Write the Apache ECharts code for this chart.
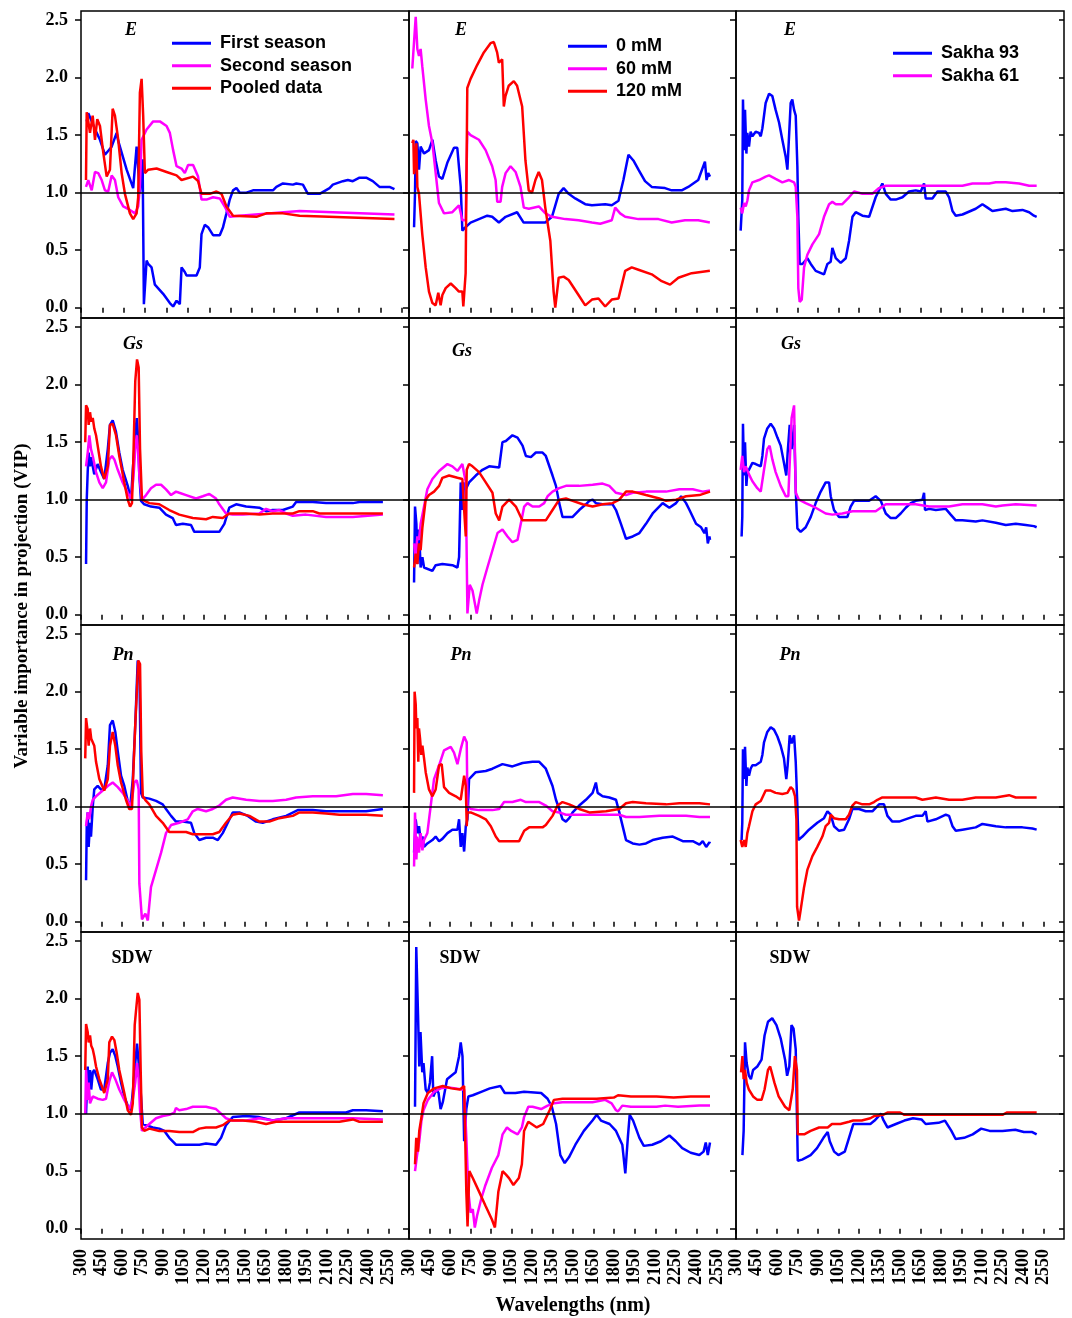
<!DOCTYPE html>
<html>
<head>
<meta charset="utf-8">
<title>VIP spectra</title>
<script src="https://cdn.jsdelivr.net/npm/echarts@6/dist/echarts.min.js"></script>
<style>
  html, body { margin: 0; padding: 0; background: #fff; }
  #chart { width: 1072px; height: 1318px; }
</style>
</head>
<body>
<div id="chart"></div>
<script>
// tick labels
const wlTicks = [300, 450, 600, 750, 900, 1050, 1200, 1350, 1500, 1650, 1800, 1950, 2100, 2250, 2400, 2550];
const vipTicks = [0, 0.5, 1, 1.5, 2, 2.5];

// legend names
const seasonNames = ['First season', 'Second season', 'Pooled data'];
const saltNames = ['0 mM', '60 mM', '120 mM'];
const cultivarNames = ['Sakha 93', 'Sakha 61'];

// ---- E (transpiration) ----
const E_season1 = [[340,1.62],[351,1.69],[410,1.52],[433,1.46],[468,1.33],[480,1.33],[515,1.40],[550,1.52],[561,1.45],[620,1.20],[666,1.04],[678,1.03],[690,1.40],[713,1.00],[732,1.29],[741,0.03],[760,0.41],[771,0.38],[795,0.35],[818,0.20],[876,0.12],[923,0.04],[946,0.01],[970,0.06],[993,0.03],[1005,0.35],[1028,0.31],[1040,0.28],[1110,0.28],[1133,0.35],[1145,0.64],[1168,0.72],[1191,0.70],[1226,0.63],[1273,0.63],[1296,0.70],[1320,0.82],[1343,0.94],[1366,1.02],[1390,1.04],[1413,1.00],[1460,1.00],[1506,1.02],[1646,1.02],[1670,1.05],[1716,1.08],[1786,1.07],[1810,1.08],[1856,1.07],[1891,0.99],[1973,0.99],[2043,1.04],[2066,1.07],[2136,1.10],[2171,1.11],[2206,1.10],[2253,1.13],[2300,1.13],[2346,1.10],[2393,1.05],[2463,1.05],[2498,1.03]];
const E_season2 = [[335,1.05],[351,1.11],[375,1.02],[398,1.18],[421,1.17],[445,1.11],[468,1.02],[491,1.01],[515,1.15],[538,1.11],[561,0.96],[596,0.88],[643,0.85],[678,0.82],[701,0.88],[713,1.05],[725,1.46],[760,1.55],[806,1.62],[853,1.62],[900,1.58],[923,1.52],[946,1.37],[970,1.23],[1005,1.21],[1028,1.17],[1051,1.24],[1086,1.24],[1121,1.14],[1145,0.94],[1180,0.94],[1226,0.96],[1273,0.95],[1308,0.88],[1343,0.79],[1413,0.80],[1833,0.84],[2066,0.83],[2498,0.81]];
const E_pooled = [[335,1.11],[340,1.70],[344,1.68],[363,1.52],[382,1.67],[398,1.46],[414,1.64],[433,1.58],[456,1.35],[480,1.14],[503,1.20],[522,1.73],[538,1.67],[561,1.46],[585,1.17],[608,0.99],[643,0.82],[666,0.77],[690,0.82],[701,0.96],[713,1.87],[725,1.99],[736,1.67],[748,1.17],[771,1.20],[830,1.21],[900,1.18],[970,1.15],[1005,1.11],[1086,1.14],[1121,1.10],[1145,0.99],[1203,0.99],[1250,1.01],[1285,0.99],[1320,0.88],[1366,0.80],[1530,0.79],[1600,0.82],[1716,0.82],[1833,0.80],[2498,0.77]];
const E_salt0 = [[337,0.70],[344,1.00],[349,1.45],[361,1.43],[373,1.20],[385,1.40],[410,1.34],[446,1.37],[471,1.46],[495,1.28],[519,1.14],[544,1.12],[580,1.26],[629,1.39],[653,1.39],[678,1.05],[690,0.67],[714,0.70],[750,0.74],[811,0.77],[872,0.80],[908,0.79],[957,0.74],[1006,0.79],[1090,0.83],[1138,0.74],[1296,0.74],[1345,0.79],[1394,0.99],[1430,1.04],[1467,0.99],[1515,0.95],[1588,0.90],[1637,0.89],[1734,0.90],[1782,0.89],[1831,0.93],[1867,1.11],[1904,1.33],[1940,1.28],[1977,1.20],[2025,1.10],[2074,1.05],[2171,1.04],[2220,1.02],[2293,1.02],[2341,1.05],[2414,1.11],[2463,1.27],[2475,1.11],[2487,1.17],[2500,1.14]];
const E_salt60 = [[324,2.08],[349,2.53],[361,2.25],[373,2.19],[385,2.25],[397,2.10],[422,1.81],[446,1.58],[471,1.43],[495,1.17],[519,0.91],[556,0.82],[617,0.83],[665,0.89],[690,0.76],[714,0.76],[726,1.53],[750,1.50],[811,1.46],[860,1.37],[908,1.23],[933,1.11],[945,0.92],[969,0.92],[981,1.05],[1006,1.17],[1042,1.23],[1079,1.18],[1115,1.05],[1139,0.87],[1176,0.86],[1249,0.88],[1297,0.82],[1345,0.79],[1442,0.77],[1539,0.76],[1637,0.74],[1698,0.73],[1782,0.76],[1807,0.87],[1843,0.82],[1880,0.79],[1977,0.77],[2123,0.77],[2220,0.74],[2317,0.76],[2414,0.76],[2499,0.74]];
const E_salt120 = [[324,1.43],[332,1.46],[337,1.16],[344,1.28],[354,1.43],[361,1.05],[373,0.99],[397,0.64],[422,0.35],[446,0.14],[471,0.04],[495,0.02],[514,0.13],[531,0.02],[544,0.11],[568,0.17],[605,0.21],[641,0.17],[665,0.14],[690,0.14],[697,0.01],[714,0.30],[726,1.91],[750,1.99],[798,2.11],[847,2.22],[896,2.30],[920,2.31],[944,2.22],[957,2.13],[981,2.16],[993,1.75],[1005,1.84],[1029,1.93],[1066,1.97],[1090,1.93],[1127,1.75],[1151,1.28],[1175,1.02],[1199,1.00],[1224,1.11],[1248,1.18],[1272,1.11],[1296,0.87],[1333,0.58],[1357,0.14],[1369,0.00],[1394,0.26],[1430,0.27],[1467,0.24],[1539,0.11],[1588,0.02],[1637,0.07],[1685,0.08],[1734,0.01],[1782,0.07],[1831,0.08],[1880,0.32],[1928,0.35],[1977,0.33],[2074,0.29],[2147,0.23],[2208,0.20],[2269,0.26],[2366,0.30],[2499,0.32]];
const E_sakha93 = [[334,0.67],[346,0.94],[351,1.81],[359,1.37],[366,1.72],[376,1.34],[383,1.52],[395,1.40],[407,1.53],[420,1.49],[444,1.53],[468,1.52],[481,1.49],[493,1.56],[517,1.78],[542,1.86],[566,1.84],[590,1.72],[615,1.61],[639,1.46],[664,1.31],[676,1.20],[688,1.49],[700,1.78],[712,1.81],[725,1.72],[737,1.67],[749,1.23],[756,0.79],[766,0.38],[786,0.38],[822,0.43],[847,0.38],[883,0.32],[944,0.29],[969,0.38],[993,0.40],[1005,0.52],[1030,0.43],[1066,0.39],[1103,0.43],[1127,0.58],[1152,0.79],[1176,0.83],[1225,0.80],[1274,0.79],[1322,0.96],[1371,1.08],[1396,0.99],[1432,0.94],[1469,0.94],[1518,0.96],[1566,1.01],[1615,1.02],[1652,1.01],[1676,1.08],[1688,0.95],[1737,0.95],[1774,1.01],[1835,1.01],[1859,0.96],[1884,0.84],[1908,0.80],[1957,0.81],[2054,0.86],[2103,0.90],[2140,0.87],[2176,0.84],[2274,0.86],[2323,0.84],[2396,0.85],[2445,0.83],[2480,0.80],[2500,0.79]];
const E_sakha61 = [[334,0.87],[346,0.82],[359,0.91],[371,0.88],[383,0.93],[395,1.02],[420,1.09],[468,1.11],[517,1.14],[542,1.15],[590,1.12],[639,1.09],[688,1.11],[725,1.09],[737,1.05],[749,0.79],[756,0.17],[766,0.05],[781,0.07],[798,0.35],[822,0.46],[859,0.55],[908,0.64],[944,0.79],[981,0.90],[1005,0.92],[1030,0.90],[1078,0.90],[1127,0.96],[1164,1.01],[1225,0.99],[1298,0.99],[1347,1.04],[1396,1.06],[1591,1.06],[1713,1.06],[1835,1.06],[1957,1.06],[2030,1.08],[2152,1.08],[2201,1.09],[2274,1.09],[2372,1.08],[2445,1.06],[2500,1.06]];

// ---- Gs (stomatal conductance) ----
const Gs_season1 = [[337,0.44],[342,1.00],[349,1.24],[356,1.41],[366,1.29],[373,1.37],[386,1.29],[397,1.22],[422,1.31],[446,1.24],[470,1.18],[496,1.44],[512,1.65],[532,1.69],[556,1.59],[580,1.41],[605,1.26],[642,1.12],[666,1.00],[679,1.26],[697,1.56],[708,1.71],[717,1.56],[727,1.21],[739,0.99],[763,0.96],[812,0.94],[873,0.93],[922,0.87],[971,0.84],[995,0.78],[1045,0.79],[1105,0.78],[1129,0.72],[1215,0.72],[1312,0.72],[1349,0.79],[1385,0.93],[1435,0.96],[1508,0.94],[1605,0.93],[1654,0.90],[1702,0.91],[1777,0.91],[1850,0.94],[1874,0.98],[1996,0.98],[2093,0.97],[2289,0.97],[2337,0.98],[2509,0.98]];
const Gs_season2 = [[337,1.29],[349,1.41],[361,1.56],[373,1.44],[386,1.38],[410,1.24],[434,1.15],[459,1.10],[483,1.15],[507,1.35],[527,1.38],[544,1.35],[569,1.26],[605,1.15],[642,1.06],[666,1.01],[683,1.18],[697,1.44],[708,1.56],[717,1.44],[727,1.21],[746,1.00],[776,1.04],[812,1.10],[849,1.13],[886,1.13],[922,1.09],[959,1.04],[995,1.07],[1019,1.06],[1069,1.04],[1142,1.01],[1191,1.03],[1239,1.05],[1288,1.01],[1312,0.96],[1361,0.88],[1410,0.87],[1484,0.87],[1605,0.88],[1654,0.92],[1702,0.90],[1751,0.91],[1801,0.88],[1850,0.86],[1947,0.87],[2093,0.85],[2289,0.85],[2509,0.87]];
const Gs_pooled = [[331,1.50],[337,1.82],[349,1.79],[356,1.65],[366,1.76],[375,1.68],[386,1.71],[397,1.62],[410,1.56],[422,1.47],[446,1.29],[470,1.18],[496,1.29],[512,1.65],[532,1.66],[556,1.56],[580,1.38],[617,1.15],[642,1.00],[659,0.94],[673,0.97],[683,1.35],[697,2.03],[710,2.22],[722,2.15],[732,1.44],[746,1.00],[800,0.97],[873,0.96],[946,0.91],[1019,0.87],[1118,0.84],[1215,0.83],[1264,0.85],[1337,0.84],[1385,0.88],[1508,0.88],[1605,0.87],[1702,0.88],[1850,0.88],[1898,0.90],[1996,0.90],[2044,0.88],[2143,0.88],[2289,0.88],[2509,0.88]];
const Gs_salt0 = [[337,0.28],[344,0.94],[354,0.79],[361,0.44],[373,0.74],[385,0.41],[398,0.50],[410,0.41],[422,0.40],[471,0.38],[495,0.43],[544,0.44],[617,0.43],[654,0.41],[666,0.50],[678,1.15],[690,0.91],[703,1.15],[715,1.09],[739,1.15],[788,1.21],[837,1.26],[886,1.29],[959,1.28],[983,1.50],[1008,1.51],[1056,1.56],[1093,1.54],[1130,1.47],[1154,1.38],[1191,1.37],[1227,1.41],[1276,1.41],[1300,1.38],[1349,1.21],[1374,1.12],[1398,0.97],[1422,0.85],[1447,0.85],[1496,0.85],[1544,0.91],[1593,0.96],[1618,0.99],[1642,1.00],[1666,0.97],[1715,0.96],[1788,0.96],[1813,0.91],[1849,0.79],[1886,0.66],[1935,0.68],[1984,0.71],[2032,0.79],[2081,0.88],[2154,0.97],[2203,0.93],[2252,0.97],[2289,1.03],[2325,0.97],[2350,0.91],[2398,0.79],[2435,0.76],[2459,0.71],[2472,0.76],[2484,0.62],[2496,0.68],[2500,0.65]];
const Gs_salt60 = [[337,0.62],[349,0.50],[361,0.68],[373,0.65],[385,0.79],[410,0.94],[434,1.09],[471,1.18],[520,1.25],[581,1.31],[617,1.29],[654,1.25],[690,1.31],[715,1.15],[727,0.01],[744,0.26],[764,0.21],[795,0.01],[812,0.12],[837,0.26],[873,0.41],[910,0.56],[947,0.71],[983,0.74],[1020,0.68],[1056,0.63],[1093,0.65],[1117,0.79],[1142,0.94],[1166,0.97],[1203,0.94],[1252,0.94],[1288,0.97],[1313,1.03],[1349,1.07],[1398,1.10],[1447,1.12],[1544,1.12],[1642,1.13],[1715,1.14],[1764,1.12],[1813,1.06],[1886,1.04],[1935,1.06],[2032,1.07],[2179,1.07],[2276,1.09],[2374,1.09],[2447,1.07],[2500,1.08]];
const Gs_salt120 = [[337,0.41],[349,0.53],[361,0.44],[373,0.62],[385,0.56],[398,0.76],[422,1.00],[446,1.04],[483,1.07],[520,1.12],[544,1.19],[593,1.21],[654,1.19],[690,1.18],[703,0.91],[715,0.68],[722,1.26],[739,1.31],[764,1.29],[812,1.24],[861,1.15],[910,1.06],[934,0.88],[959,0.82],[983,0.94],[1032,1.00],[1081,0.94],[1117,0.85],[1130,0.82],[1203,0.82],[1300,0.82],[1349,0.91],[1398,1.00],[1447,1.01],[1496,0.99],[1569,0.96],[1642,0.94],[1715,0.96],[1788,0.97],[1837,1.00],[1886,1.07],[1935,1.07],[2032,1.04],[2130,1.01],[2179,0.99],[2252,1.00],[2325,1.03],[2423,1.04],[2500,1.07]];
const Gs_sakha93 = [[341,0.68],[346,0.85],[351,1.66],[359,1.21],[366,1.50],[376,1.12],[383,1.24],[395,1.26],[420,1.32],[444,1.31],[481,1.29],[493,1.38],[505,1.53],[529,1.62],[554,1.66],[578,1.62],[603,1.54],[627,1.47],[651,1.32],[668,1.21],[678,1.41],[693,1.65],[707,1.44],[725,1.65],[737,1.09],[749,0.75],[773,0.72],[810,0.76],[847,0.85],[883,0.97],[920,1.07],[956,1.15],[981,1.15],[993,1.03],[1017,0.91],[1054,0.85],[1115,0.85],[1139,0.94],[1164,0.99],[1225,0.99],[1274,0.99],[1322,1.03],[1359,0.99],[1396,0.88],[1432,0.84],[1469,0.84],[1505,0.88],[1542,0.93],[1579,0.97],[1615,0.99],[1664,1.00],[1676,1.06],[1683,0.91],[1713,0.92],[1762,0.91],[1835,0.92],[1871,0.87],[1908,0.82],[1957,0.82],[2054,0.81],[2103,0.82],[2201,0.80],[2274,0.78],[2347,0.79],[2420,0.78],[2480,0.77],[2500,0.76]];
const Gs_sakha61 = [[334,1.26],[346,1.38],[359,1.24],[371,1.29],[395,1.22],[420,1.16],[456,1.10],[481,1.07],[505,1.26],[529,1.44],[546,1.47],[566,1.35],[590,1.24],[627,1.12],[664,1.03],[683,1.03],[693,1.32],[707,1.71],[725,1.82],[737,1.06],[761,1.00],[810,0.97],[883,0.93],[956,0.88],[1005,0.87],[1078,0.88],[1152,0.90],[1249,0.90],[1322,0.90],[1359,0.93],[1396,0.96],[1469,0.96],[1615,0.96],[1713,0.94],[1859,0.94],[1957,0.96],[2103,0.96],[2201,0.94],[2250,0.95],[2347,0.96],[2500,0.95]];

// ---- Pn (net photosynthesis) ----
const Pn_season1 = [[337,0.36],[342,0.83],[349,0.95],[356,0.65],[366,0.86],[373,0.74],[386,1.00],[397,1.15],[422,1.18],[446,1.15],[470,1.15],[496,1.36],[512,1.71],[532,1.75],[551,1.65],[569,1.48],[593,1.27],[617,1.18],[642,1.05],[659,0.99],[679,1.24],[697,1.71],[715,2.27],[727,2.24],[739,1.12],[752,1.08],[800,1.07],[849,1.05],[898,1.02],[922,0.98],[959,0.92],[995,0.87],[1045,0.87],[1105,0.86],[1129,0.77],[1166,0.71],[1215,0.73],[1264,0.73],[1301,0.71],[1337,0.77],[1374,0.86],[1410,0.95],[1459,0.95],[1520,0.92],[1581,0.87],[1630,0.86],[1703,0.89],[1801,0.92],[1886,0.97],[1996,0.97],[2093,0.96],[2240,0.96],[2386,0.96],[2509,0.98]];
const Pn_season2 = [[337,0.83],[349,0.95],[361,0.89],[373,1.00],[386,1.06],[410,1.09],[459,1.14],[496,1.18],[532,1.21],[569,1.17],[605,1.12],[642,1.05],[666,1.00],[690,1.21],[708,1.23],[722,1.15],[727,0.33],[746,0.02],[771,0.07],[789,0.01],[812,0.30],[849,0.45],[886,0.60],[922,0.77],[959,0.84],[1019,0.86],[1081,0.89],[1118,0.96],[1154,0.98],[1215,0.96],[1264,0.98],[1312,1.01],[1361,1.06],[1410,1.08],[1508,1.06],[1605,1.05],[1703,1.05],[1801,1.06],[1874,1.08],[1996,1.09],[2167,1.09],[2289,1.11],[2386,1.11],[2509,1.10]];
const Pn_pooled = [[331,1.42],[337,1.77],[349,1.65],[356,1.53],[366,1.68],[375,1.59],[386,1.56],[397,1.53],[410,1.39],[434,1.24],[470,1.14],[496,1.24],[512,1.53],[532,1.65],[551,1.53],[569,1.36],[593,1.21],[629,1.06],[653,0.98],[673,0.98],[683,1.30],[697,1.71],[710,2.03],[719,2.27],[732,2.24],[741,1.48],[752,1.09],[776,1.05],[800,1.02],[849,0.92],[898,0.86],[946,0.78],[995,0.78],[1069,0.78],[1118,0.76],[1166,0.76],[1264,0.76],[1312,0.78],[1361,0.86],[1410,0.93],[1459,0.94],[1532,0.92],[1605,0.87],[1678,0.87],[1751,0.90],[1850,0.92],[1898,0.95],[1996,0.95],[2093,0.94],[2191,0.93],[2264,0.93],[2386,0.93],[2509,0.92]];
const Pn_salt0 = [[337,0.60],[349,0.89],[361,0.77],[373,0.83],[385,0.71],[398,0.74],[410,0.65],[434,0.68],[471,0.71],[495,0.74],[520,0.70],[544,0.72],[581,0.77],[617,0.80],[654,0.80],[666,0.89],[678,0.65],[690,0.77],[703,0.61],[715,0.83],[727,0.89],[739,1.24],[788,1.30],[861,1.31],[910,1.33],[983,1.37],[1056,1.35],[1130,1.38],[1203,1.39],[1252,1.39],[1300,1.33],[1349,1.18],[1374,1.06],[1398,0.98],[1422,0.89],[1447,0.87],[1471,0.90],[1496,0.95],[1544,1.01],[1593,1.06],[1642,1.12],[1666,1.21],[1679,1.12],[1715,1.09],[1764,1.08],[1813,1.06],[1837,0.95],[1874,0.77],[1886,0.71],[1935,0.68],[1984,0.67],[2032,0.68],[2081,0.71],[2154,0.73],[2228,0.74],[2301,0.70],[2374,0.70],[2423,0.67],[2447,0.70],[2472,0.65],[2496,0.69],[2500,0.68]];
const Pn_salt60 = [[337,0.48],[344,0.95],[354,0.54],[361,0.74],[373,0.60],[385,0.77],[398,0.62],[410,0.71],[434,0.77],[459,1.01],[483,1.24],[520,1.36],[556,1.49],[605,1.52],[629,1.47],[654,1.37],[678,1.50],[703,1.61],[722,1.56],[727,1.01],[751,0.98],[812,0.97],[910,0.97],[959,0.98],[995,1.04],[1056,1.04],[1117,1.06],[1154,1.04],[1252,1.04],[1300,1.01],[1349,0.96],[1398,0.95],[1447,0.93],[1544,0.93],[1691,0.93],[1788,0.93],[1837,0.93],[1886,0.91],[1984,0.91],[2130,0.92],[2325,0.92],[2423,0.91],[2500,0.91]];
const Pn_salt120 = [[337,1.12],[341,2.00],[349,1.89],[354,1.68],[361,1.77],[368,1.39],[373,1.68],[381,1.59],[390,1.45],[398,1.53],[410,1.42],[422,1.30],[446,1.15],[471,1.09],[495,1.15],[520,1.36],[539,1.37],[556,1.17],[593,1.12],[642,1.09],[678,1.06],[703,1.27],[715,1.18],[722,0.83],[727,0.95],[751,0.95],[812,0.92],[861,0.89],[898,0.83],[934,0.74],[959,0.70],[1008,0.70],[1105,0.70],[1142,0.79],[1178,0.82],[1276,0.82],[1300,0.84],[1349,0.92],[1386,1.01],[1422,1.04],[1471,1.02],[1544,0.98],[1618,0.95],[1740,0.96],[1837,0.98],[1886,1.03],[1935,1.04],[2032,1.03],[2179,1.02],[2276,1.03],[2423,1.03],[2500,1.02]];
const Pn_sakha93 = [[341,0.71],[346,0.86],[351,1.50],[359,1.24],[366,1.52],[376,1.18],[383,1.34],[395,1.27],[407,1.33],[420,1.36],[444,1.36],[481,1.39],[493,1.45],[505,1.56],[529,1.65],[554,1.69],[578,1.67],[603,1.61],[627,1.53],[651,1.42],[668,1.24],[678,1.36],[693,1.62],[707,1.55],[725,1.62],[737,1.39],[749,1.01],[756,0.71],[786,0.74],[834,0.80],[895,0.86],[944,0.90],[969,0.96],[993,0.93],[1017,0.83],[1054,0.79],[1091,0.80],[1127,0.89],[1152,0.98],[1200,0.98],[1249,0.96],[1298,0.96],[1347,1.02],[1383,1.02],[1408,0.92],[1444,0.87],[1493,0.87],[1566,0.90],[1615,0.92],[1664,0.92],[1688,0.96],[1701,0.87],[1762,0.89],[1835,0.93],[1859,0.92],[1884,0.83],[1908,0.79],[1957,0.80],[2054,0.82],[2103,0.85],[2201,0.83],[2274,0.82],[2347,0.82],[2396,0.82],[2469,0.81],[2500,0.80]];
const Pn_sakha61 = [[334,0.71],[346,0.65],[359,0.71],[371,0.65],[383,0.77],[395,0.83],[420,0.96],[444,1.02],[481,1.05],[517,1.14],[554,1.14],[590,1.12],[639,1.11],[676,1.12],[700,1.17],[717,1.15],[732,1.09],[742,0.89],[747,0.13],[761,0.01],[773,0.10],[798,0.30],[822,0.45],[859,0.57],[895,0.65],[932,0.74],[956,0.83],[981,0.86],[993,0.93],[1017,0.90],[1054,0.89],[1103,0.89],[1127,0.93],[1152,1.01],[1176,1.04],[1225,1.02],[1274,1.02],[1310,1.04],[1335,1.06],[1371,1.08],[1469,1.08],[1615,1.08],[1664,1.06],[1762,1.08],[1859,1.06],[1957,1.06],[2054,1.08],[2201,1.08],[2298,1.10],[2347,1.08],[2445,1.08],[2500,1.08]];

// ---- SDW (shoot dry weight) ----
const SDW_season1 = [[337,1.00],[349,1.41],[356,1.21],[366,1.38],[375,1.21],[386,1.36],[397,1.38],[422,1.30],[446,1.21],[470,1.21],[496,1.44],[512,1.53],[532,1.56],[551,1.50],[569,1.41],[593,1.27],[617,1.15],[642,1.07],[666,1.03],[683,1.24],[697,1.44],[710,1.61],[722,1.44],[739,1.15],[752,0.91],[776,0.90],[825,0.88],[873,0.87],[910,0.85],[946,0.79],[995,0.73],[1069,0.73],[1166,0.73],[1215,0.74],[1288,0.73],[1325,0.79],[1361,0.90],[1410,0.97],[1508,0.98],[1605,0.97],[1703,0.94],[1801,0.96],[1898,1.01],[2044,1.01],[2240,1.01],[2289,1.03],[2386,1.03],[2509,1.02]];
const SDW_season2 = [[331,1.00],[337,1.38],[349,1.12],[356,1.27],[366,1.09],[386,1.15],[422,1.13],[459,1.12],[483,1.13],[507,1.28],[527,1.36],[551,1.30],[580,1.21],[617,1.12],[653,1.04],[679,1.12],[697,1.27],[710,1.44],[722,1.30],[732,1.03],[746,0.85],[771,0.88],[800,0.91],[849,0.96],[898,0.98],[946,0.99],[983,1.01],[995,1.05],[1019,1.03],[1069,1.04],[1118,1.06],[1215,1.06],[1288,1.04],[1325,1.00],[1361,0.96],[1410,0.94],[1508,0.94],[1605,0.96],[1703,0.94],[1801,0.96],[1898,0.96],[2044,0.96],[2191,0.96],[2289,0.96],[2509,0.95]];
const SDW_pooled = [[331,1.38],[337,1.78],[349,1.71],[356,1.62],[366,1.68],[375,1.59],[386,1.56],[397,1.50],[410,1.41],[434,1.30],[470,1.18],[496,1.30],[507,1.62],[527,1.67],[544,1.64],[561,1.53],[580,1.38],[617,1.18],[642,1.03],[666,0.99],[679,1.09],[693,1.77],[703,1.90],[715,2.05],[727,1.99],[737,1.36],[746,0.88],[763,0.85],[800,0.87],[873,0.85],[946,0.85],[1019,0.84],[1118,0.84],[1166,0.87],[1215,0.88],[1288,0.88],[1337,0.90],[1385,0.94],[1484,0.94],[1581,0.93],[1654,0.91],[1727,0.93],[1850,0.93],[1996,0.93],[2191,0.93],[2289,0.95],[2337,0.93],[2509,0.93]];
const SDW_salt0 = [[344,1.06],[353,2.45],[366,1.86],[375,1.41],[384,1.71],[397,1.36],[406,1.44],[422,1.21],[438,1.18],[453,1.27],[469,1.50],[478,1.15],[500,1.21],[516,1.18],[531,1.04],[547,1.10],[578,1.30],[609,1.33],[641,1.36],[666,1.50],[678,1.62],[691,1.50],[703,0.76],[719,1.04],[734,1.15],[766,1.16],[828,1.19],[891,1.22],[969,1.24],[1000,1.18],[1078,1.18],[1141,1.19],[1266,1.18],[1313,1.13],[1344,1.06],[1375,0.91],[1406,0.64],[1438,0.57],[1469,0.62],[1516,0.73],[1578,0.85],[1641,0.94],[1672,0.99],[1703,0.94],[1766,0.91],[1813,0.85],[1859,0.73],[1881,0.48],[1900,0.80],[1913,0.99],[1938,0.94],[1984,0.79],[2016,0.72],[2078,0.73],[2141,0.76],[2203,0.81],[2250,0.76],[2297,0.70],[2359,0.66],[2422,0.64],[2453,0.67],[2469,0.75],[2484,0.64],[2500,0.75]];
const SDW_salt60 = [[344,0.50],[359,0.64],[375,0.76],[391,0.94],[406,1.03],[438,1.12],[484,1.19],[531,1.22],[578,1.23],[641,1.22],[688,1.21],[703,1.21],[719,0.79],[734,0.32],[750,0.14],[766,0.17],[781,0.01],[797,0.11],[828,0.26],[859,0.38],[906,0.53],[953,0.64],[984,0.82],[1016,0.88],[1047,0.85],[1094,0.82],[1125,0.88],[1141,0.97],[1172,1.06],[1203,1.06],[1266,1.04],[1313,1.07],[1359,1.09],[1422,1.10],[1484,1.10],[1578,1.10],[1641,1.10],[1734,1.12],[1781,1.09],[1813,1.03],[1828,1.02],[1859,1.07],[1922,1.06],[1984,1.06],[2109,1.06],[2172,1.07],[2266,1.06],[2422,1.07],[2500,1.07]];
const SDW_salt120 = [[344,0.56],[353,0.79],[366,0.67],[375,0.85],[391,0.97],[406,1.09],[438,1.18],[484,1.22],[547,1.24],[609,1.22],[672,1.21],[703,1.24],[719,0.32],[728,0.02],[741,0.50],[766,0.44],[813,0.32],[859,0.20],[906,0.08],[928,0.01],[953,0.32],[984,0.50],[1009,0.47],[1031,0.44],[1063,0.38],[1103,0.44],[1125,0.56],[1141,0.85],[1172,0.93],[1234,0.88],[1281,0.91],[1328,1.03],[1359,1.12],[1422,1.13],[1547,1.13],[1672,1.13],[1797,1.14],[1828,1.16],[1922,1.15],[2109,1.15],[2234,1.14],[2359,1.15],[2500,1.15]];
const SDW_sakha93 = [[347,0.64],[356,0.85],[366,1.62],[378,1.44],[394,1.33],[409,1.30],[425,1.38],[456,1.41],[487,1.47],[509,1.68],[534,1.80],[565,1.83],[596,1.77],[628,1.65],[659,1.47],[674,1.33],[690,1.41],[706,1.77],[721,1.74],[737,1.56],[752,0.59],[784,0.60],[846,0.64],[893,0.70],[940,0.79],[971,0.84],[986,0.76],[1018,0.67],[1049,0.64],[1096,0.67],[1127,0.79],[1158,0.91],[1220,0.91],[1283,0.91],[1314,0.94],[1361,1.00],[1376,0.95],[1408,0.88],[1470,0.91],[1532,0.94],[1595,0.96],[1657,0.95],[1688,0.91],[1782,0.92],[1829,0.94],[1876,0.85],[1907,0.78],[1969,0.79],[2032,0.82],[2094,0.87],[2156,0.85],[2250,0.85],[2344,0.86],[2406,0.84],[2468,0.84],[2500,0.82]];
const SDW_sakha61 = [[337,1.36],[347,1.50],[356,1.30],[366,1.38],[378,1.27],[394,1.21],[425,1.15],[456,1.12],[487,1.12],[509,1.21],[534,1.38],[550,1.41],[581,1.27],[612,1.15],[659,1.06],[690,1.03],[715,1.21],[731,1.50],[746,1.38],[752,0.82],[799,0.82],[846,0.85],[908,0.88],[971,0.88],[1002,0.91],[1064,0.91],[1127,0.93],[1158,0.94],[1220,0.94],[1283,0.96],[1314,0.98],[1376,0.99],[1408,1.01],[1501,1.01],[1532,0.99],[1751,0.99],[1907,0.99],[2063,0.99],[2250,0.99],[2281,1.01],[2500,1.01]];

const BLUE = '#0000ff', MAGENTA = '#ff00ff', RED = '#ff0000';

// one entry per panel, row by row
const panels = [
  { label: 'E', italic: true, lx: 50, ly: 19, names: seasonNames, colors: [BLUE, MAGENTA, RED], lines: [E_season1, E_season2, E_pooled] },
  { label: 'E', italic: true, lx: 52, ly: 19, names: saltNames, colors: [BLUE, MAGENTA, RED], lines: [E_salt0, E_salt60, E_salt120] },
  { label: 'E', italic: true, lx: 54, ly: 19, names: cultivarNames, colors: [BLUE, MAGENTA], lines: [E_sakha93, E_sakha61] },
  { label: 'Gs', italic: true, lx: 52, ly: 26, names: seasonNames, colors: [BLUE, MAGENTA, RED], lines: [Gs_season1, Gs_season2, Gs_pooled] },
  { label: 'Gs', italic: true, lx: 53, ly: 33, names: saltNames, colors: [BLUE, MAGENTA, RED], lines: [Gs_salt0, Gs_salt60, Gs_salt120] },
  { label: 'Gs', italic: true, lx: 55, ly: 26, names: cultivarNames, colors: [BLUE, MAGENTA], lines: [Gs_sakha93, Gs_sakha61] },
  { label: 'Pn', italic: true, lx: 42, ly: 30, names: seasonNames, colors: [BLUE, MAGENTA, RED], lines: [Pn_season1, Pn_season2, Pn_pooled] },
  { label: 'Pn', italic: true, lx: 52, ly: 30, names: saltNames, colors: [BLUE, MAGENTA, RED], lines: [Pn_salt0, Pn_salt60, Pn_salt120] },
  { label: 'Pn', italic: true, lx: 54, ly: 30, names: cultivarNames, colors: [BLUE, RED], lines: [Pn_sakha93, Pn_sakha61] },
  { label: 'SDW', italic: false, lx: 51, ly: 26, names: seasonNames, colors: [BLUE, MAGENTA, RED], lines: [SDW_season1, SDW_season2, SDW_pooled] },
  { label: 'SDW', italic: false, lx: 51, ly: 26, names: saltNames, colors: [BLUE, MAGENTA, RED], lines: [SDW_salt0, SDW_salt60, SDW_salt120] },
  { label: 'SDW', italic: false, lx: 54, ly: 26, names: cultivarNames, colors: [BLUE, RED], lines: [SDW_sakha93, SDW_sakha61] }
];

// layout
const colLeft = [81, 409, 736];
const colWidth = [328, 327, 328];
const wlMax = [[2600, 2690, 2700], [2700, 2690, 2700], [2700, 2690, 2700], [2700, 2690, 2700]];
const rowTop = [11, 318, 625, 932];
const rowHeight = 307;
const vipMin = -0.09, vipMax = 2.58;

const serif = 'Liberation Serif, Times New Roman, serif';
const sans = 'Liberation Sans, Arial, sans-serif';
const tickStyle = { color: '#000', width: 1.5 };
const labelFont = { fontFamily: serif, fontWeight: 'bold', fontSize: 18, color: '#000' };

const grids = [], xAxes = [], yAxes = [], series = [], texts = [];

panels.forEach((p, k) => {
  const row = Math.floor(k / 3), col = k % 3;
  grids.push({
    left: colLeft[col], top: rowTop[row], width: colWidth[col], height: rowHeight,
    show: true, borderColor: '#000', borderWidth: 1.5, backgroundColor: 'transparent'
  });

  // bottom axis: ticks point out (down into the panel below), labels only on the last row
  xAxes.push({
    type: 'value', gridIndex: k, min: 300, max: wlMax[row][col], position: 'bottom',
    splitLine: { show: false }, axisLine: { show: false },
    axisTick: { show: true, inside: false, length: 5, customValues: wlTicks, lineStyle: tickStyle },
    axisLabel: Object.assign({ show: row === 3, rotate: 90, margin: 10, customValues: wlTicks,
      formatter: v => String(v) }, labelFont)
  });

  const yBase = { type: 'value', gridIndex: k, min: vipMin, max: vipMax,
    splitLine: { show: false }, axisLine: { show: false } };
  yAxes.push(Object.assign({}, yBase, {
    position: 'left',
    axisTick: { show: true, inside: false, length: 6, customValues: vipTicks, lineStyle: tickStyle },
    axisLabel: Object.assign({ show: col === 0, margin: 13, customValues: vipTicks,
      formatter: v => v.toFixed(1) }, labelFont)
  }));
  yAxes.push(Object.assign({}, yBase, {
    position: 'right',
    axisTick: { show: col === 2, inside: true, length: 5, customValues: vipTicks, lineStyle: tickStyle },
    axisLabel: { show: false }
  }));

  p.lines.forEach((data, i) => {
    series.push({
      type: 'line', name: p.names[i], data: data,
      xAxisIndex: k, yAxisIndex: 2 * k,
      showSymbol: false, symbol: 'none', silent: true,
      lineStyle: { color: p.colors[i], width: 2.5 },
      itemStyle: { color: p.colors[i] }
    });
  });

  // reference line at VIP = 1
  series.push({
    type: 'line', data: [], xAxisIndex: k, yAxisIndex: 2 * k, z: 5, silent: true,
    markLine: {
      silent: true, symbol: ['none', 'none'], label: { show: false },
      lineStyle: { color: '#000', width: 1.5, type: 'solid' },
      data: [{ yAxis: 1 }]
    }
  });

  texts.push({
    type: 'text', x: colLeft[col] + p.lx, y: rowTop[row] + p.ly, z: 10,
    style: {
      text: p.label, align: 'center', verticalAlign: 'middle', fill: '#000',
      font: (p.italic ? 'italic ' : '') + 'bold 18px ' + serif
    }
  });
});

texts.push({
  type: 'text', x: 22, y: 606, rotation: Math.PI / 2,
  style: { text: 'Variable importance in projection (VIP)', align: 'center', verticalAlign: 'middle',
    fill: '#000', font: 'bold 19px ' + serif }
});
texts.push({
  type: 'text', x: 573, y: 1306,
  style: { text: 'Wavelengths (nm)', align: 'center', verticalAlign: 'middle',
    fill: '#000', font: 'bold 20px ' + serif }
});

const legendBase = {
  orient: 'vertical', icon: 'rect', itemWidth: 39, itemHeight: 3, itemGap: 0, padding: 0,
  selectedMode: false,
  textStyle: { fontFamily: sans, fontWeight: 'bold', fontSize: 18, lineHeight: 22.5, color: '#000', padding: [0, 0, 0, 4] }
};

const chart = echarts.init(document.getElementById('chart'));
chart.setOption({
  animation: false,
  backgroundColor: '#fff',
  grid: grids,
  xAxis: xAxes,
  yAxis: yAxes,
  legend: [
    Object.assign({}, legendBase, { data: seasonNames, left: 172, top: 32 }),
    Object.assign({}, legendBase, { data: saltNames, left: 568, top: 35 }),
    Object.assign({}, legendBase, { data: cultivarNames, left: 893, top: 42 })
  ],
  series: series,
  graphic: texts
});
</script>
</body>
</html>
